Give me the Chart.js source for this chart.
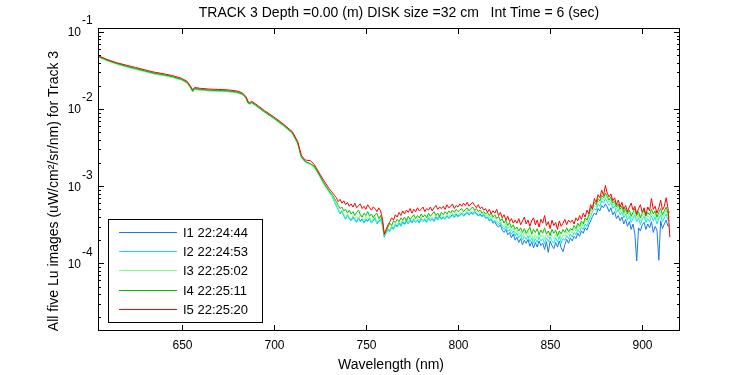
<!DOCTYPE html>
<html><head><meta charset="utf-8">
<script src="https://cdn.jsdelivr.net/npm/chart.js@4"></script>
<style>html,body{margin:0;padding:0;background:#fff;}canvas{display:block;}</style>
</head><body>
<canvas id="c" width="750" height="375"></canvas>
<script>
// ---- data (wavelength in nm, radiance as log10 values) ----
const wavelengths = [605,610,615,620,625,630,635,640,645,650,653,655,656,657,660,665,670,675,680,683,685,686,687,688,690,695,700,705,710,713,715,717,720,722,724,727,730,
732,733,734,735,736,737,738,739,740,741,
742,743,744,745,746,747,748,749,750,751,
752,753,754,755,756,757,758,759,760,761,
762,763,764,765,766,767,768,769,770,771,
772,773,774,775,776,777,778,779,780,781,
782,783,784,785,786,787,788,789,790,791,
792,793,794,795,796,797,798,799,800,801,
802,803,804,805,806,807,808,809,810,811,
812,813,814,815,816,817,818,819,820,821,
822,823,824,825,826,827,828,829,830,831,
832,833,834,835,836,837,838,839,840,841,
842,843,844,845,846,847,848,849,850,851,
852,853,854,855,856,857,858,859,860,861,
862,863,864,865,866,867,868,869,870,871,
872,873,874,875,876,877,878,879,880,881,
882,883,884,885,886,887,888,889,890,891,
892,893,894,895,896,897,898,899,900,901,
902,903,904,905,906,907,908,909,910,911,
912,913,914,915];

const seriesLabels = ["I1 22:24:44","I2 22:24:53","I3 22:25:02","I4 22:25:11","I5 22:25:20"];
const seriesColors = ["#1a78ec","#10e4f2","#80ff80","#00c400","#ff0000"];

const lu1 = [-1.32,-1.37,-1.41,-1.445,-1.475,-1.505,-1.535,-1.555,-1.58,-1.615,-1.655,-1.725,-1.765,-1.735,-1.745,-1.755,-1.76,-1.765,-1.78,-1.805,-1.855,-1.915,-1.93,-1.915,-1.945,-2.035,-2.115,-2.205,-2.305,-2.44,-2.62,-2.68,-2.71,-2.745,-2.825,-2.955,-3.065,
-3.14,-3.20,-3.25,-3.30,-3.35,-3.32,-3.38,-3.42,-3.37,-3.41,
-3.44,-3.40,-3.43,-3.46,-3.41,-3.45,-3.42,-3.47,-3.43,-3.45,
-3.42,-3.47,-3.44,-3.41,-3.48,-3.45,-3.43,-3.50,-3.66,-3.60,
-3.56,-3.58,-3.53,-3.55,-3.50,-3.52,-3.48,-3.51,-3.46,-3.49,
-3.45,-3.48,-3.44,-3.47,-3.43,-3.46,-3.44,-3.47,-3.42,-3.45,
-3.43,-3.46,-3.41,-3.44,-3.42,-3.45,-3.40,-3.43,-3.39,-3.42,
-3.40,-3.42,-3.38,-3.41,-3.39,-3.37,-3.40,-3.36,-3.39,-3.37,
-3.35,-3.38,-3.36,-3.34,-3.37,-3.34,-3.36,-3.33,-3.35,-3.38,
-3.36,-3.39,-3.37,-3.41,-3.40,-3.45,-3.43,-3.48,-3.46,-3.51,
-3.53,-3.50,-3.57,-3.60,-3.56,-3.63,-3.60,-3.67,-3.62,-3.70,
-3.66,-3.73,-3.68,-3.76,-3.70,-3.74,-3.69,-3.78,-3.72,-3.80,
-3.73,-3.79,-3.71,-3.77,-3.74,-3.82,-3.72,-3.86,-3.71,-3.77,
-3.81,-3.73,-3.79,-3.71,-3.80,-3.85,-3.76,-3.69,-3.74,-3.67,
-3.71,-3.65,-3.68,-3.61,-3.65,-3.58,-3.61,-3.54,-3.57,-3.50,
-3.45,-3.39,-3.35,-3.37,-3.29,-3.32,-3.25,-3.28,-3.23,-3.27,
-3.33,-3.28,-3.37,-3.33,-3.42,-3.38,-3.45,-3.40,-3.49,-3.43,
-3.52,-3.46,-3.56,-3.49,-3.62,-3.97,-3.54,-3.58,-3.50,-3.47,
-3.56,-3.49,-3.54,-3.46,-3.60,-3.52,-3.57,-3.96,-3.45,-3.55,
-3.49,-3.44,-3.52,-3.50];

const lu2 = [-1.325,-1.375,-1.415,-1.45,-1.48,-1.51,-1.54,-1.56,-1.585,-1.62,-1.66,-1.73,-1.77,-1.74,-1.75,-1.76,-1.765,-1.77,-1.785,-1.81,-1.86,-1.92,-1.935,-1.92,-1.95,-2.04,-2.12,-2.21,-2.31,-2.445,-2.625,-2.685,-2.715,-2.75,-2.83,-2.96,-3.07,
-3.15,-3.21,-3.26,-3.31,-3.36,-3.33,-3.39,-3.43,-3.38,-3.42,
-3.45,-3.41,-3.44,-3.47,-3.42,-3.46,-3.43,-3.48,-3.44,-3.46,
-3.43,-3.48,-3.45,-3.42,-3.49,-3.46,-3.44,-3.51,-3.65,-3.61,
-3.57,-3.59,-3.54,-3.56,-3.51,-3.53,-3.49,-3.52,-3.47,-3.50,
-3.46,-3.49,-3.45,-3.48,-3.44,-3.47,-3.45,-3.48,-3.43,-3.46,
-3.44,-3.47,-3.42,-3.45,-3.43,-3.46,-3.41,-3.44,-3.40,-3.43,
-3.41,-3.43,-3.39,-3.42,-3.40,-3.38,-3.41,-3.37,-3.40,-3.38,
-3.36,-3.39,-3.37,-3.35,-3.38,-3.35,-3.37,-3.34,-3.36,-3.39,
-3.37,-3.40,-3.38,-3.42,-3.40,-3.44,-3.42,-3.46,-3.44,-3.48,
-3.50,-3.47,-3.53,-3.56,-3.52,-3.59,-3.56,-3.62,-3.58,-3.65,
-3.61,-3.67,-3.63,-3.70,-3.65,-3.69,-3.64,-3.72,-3.67,-3.74,
-3.68,-3.73,-3.66,-3.71,-3.68,-3.75,-3.67,-3.72,-3.66,-3.71,
-3.74,-3.67,-3.72,-3.65,-3.74,-3.68,-3.70,-3.64,-3.68,-3.62,
-3.66,-3.60,-3.63,-3.56,-3.60,-3.53,-3.56,-3.49,-3.52,-3.45,
-3.39,-3.33,-3.29,-3.31,-3.23,-3.26,-3.19,-3.22,-3.16,-3.20,
-3.25,-3.21,-3.29,-3.26,-3.34,-3.30,-3.37,-3.33,-3.41,-3.36,
-3.44,-3.39,-3.47,-3.42,-3.37,-3.46,-3.41,-3.50,-3.43,-3.39,
-3.47,-3.42,-3.46,-3.39,-3.45,-3.40,-3.49,-3.42,-3.37,-3.46,
-3.41,-3.36,-3.44,-3.45];

const lu3 = [-1.33,-1.38,-1.42,-1.455,-1.485,-1.515,-1.545,-1.565,-1.59,-1.625,-1.665,-1.735,-1.775,-1.745,-1.755,-1.765,-1.77,-1.775,-1.79,-1.815,-1.865,-1.925,-1.94,-1.925,-1.955,-2.045,-2.125,-2.215,-2.315,-2.45,-2.63,-2.69,-2.72,-2.76,-2.84,-2.97,-3.08,
-3.14,-3.19,-3.24,-3.29,-3.34,-3.31,-3.37,-3.41,-3.36,-3.40,
-3.43,-3.38,-3.42,-3.39,-3.44,-3.37,-3.41,-3.45,-3.39,-3.43,
-3.40,-3.46,-3.42,-3.39,-3.47,-3.43,-3.41,-3.49,-3.64,-3.60,
-3.55,-3.57,-3.51,-3.53,-3.48,-3.50,-3.46,-3.49,-3.44,-3.47,
-3.42,-3.47,-3.43,-3.45,-3.41,-3.46,-3.42,-3.44,-3.40,-3.45,
-3.41,-3.44,-3.39,-3.43,-3.40,-3.42,-3.38,-3.41,-3.37,-3.40,
-3.38,-3.41,-3.36,-3.39,-3.37,-3.35,-3.38,-3.34,-3.37,-3.35,
-3.33,-3.36,-3.34,-3.31,-3.35,-3.32,-3.34,-3.30,-3.33,-3.36,
-3.34,-3.37,-3.35,-3.39,-3.37,-3.41,-3.38,-3.43,-3.40,-3.45,
-3.47,-3.44,-3.50,-3.53,-3.48,-3.55,-3.52,-3.58,-3.54,-3.61,
-3.57,-3.63,-3.59,-3.66,-3.60,-3.64,-3.58,-3.67,-3.62,-3.70,
-3.63,-3.68,-3.61,-3.66,-3.63,-3.69,-3.62,-3.67,-3.60,-3.65,
-3.68,-3.62,-3.66,-3.60,-3.69,-3.63,-3.65,-3.59,-3.63,-3.57,
-3.61,-3.55,-3.58,-3.51,-3.55,-3.48,-3.52,-3.44,-3.47,-3.40,
-3.34,-3.29,-3.25,-3.27,-3.19,-3.22,-3.15,-3.18,-3.12,-3.16,
-3.21,-3.17,-3.25,-3.22,-3.30,-3.26,-3.33,-3.29,-3.37,-3.32,
-3.40,-3.35,-3.43,-3.38,-3.33,-3.42,-3.37,-3.45,-3.39,-3.35,
-3.43,-3.38,-3.41,-3.35,-3.40,-3.36,-3.44,-3.38,-3.33,-3.41,
-3.36,-3.31,-3.39,-3.40];

const lu4 = [-1.32,-1.37,-1.41,-1.445,-1.475,-1.505,-1.535,-1.555,-1.58,-1.615,-1.655,-1.725,-1.77,-1.735,-1.745,-1.755,-1.76,-1.765,-1.78,-1.805,-1.855,-1.92,-1.93,-1.915,-1.945,-2.035,-2.115,-2.205,-2.305,-2.44,-2.62,-2.68,-2.71,-2.74,-2.82,-2.95,-3.06,
-3.12,-3.16,-3.20,-3.25,-3.29,-3.27,-3.32,-3.30,-3.35,-3.31,
-3.36,-3.33,-3.38,-3.34,-3.31,-3.37,-3.40,-3.35,-3.38,-3.33,
-3.39,-3.36,-3.41,-3.37,-3.35,-3.42,-3.38,-3.46,-3.63,-3.58,
-3.53,-3.48,-3.51,-3.45,-3.47,-3.43,-3.46,-3.41,-3.44,-3.40,
-3.45,-3.39,-3.43,-3.40,-3.37,-3.42,-3.38,-3.41,-3.36,-3.40,
-3.37,-3.41,-3.35,-3.39,-3.36,-3.33,-3.38,-3.35,-3.39,-3.34,
-3.37,-3.33,-3.36,-3.32,-3.35,-3.31,-3.34,-3.30,-3.33,-3.31,
-3.29,-3.33,-3.30,-3.28,-3.32,-3.29,-3.27,-3.31,-3.29,-3.33,
-3.31,-3.35,-3.33,-3.36,-3.34,-3.38,-3.35,-3.40,-3.37,-3.42,
-3.39,-3.45,-3.42,-3.48,-3.44,-3.51,-3.47,-3.54,-3.50,-3.56,
-3.53,-3.58,-3.54,-3.60,-3.55,-3.61,-3.57,-3.53,-3.62,-3.56,
-3.60,-3.55,-3.63,-3.57,-3.61,-3.54,-3.62,-3.58,-3.64,-3.56,
-3.61,-3.57,-3.64,-3.58,-3.62,-3.56,-3.60,-3.54,-3.59,-3.55,
-3.57,-3.51,-3.55,-3.48,-3.52,-3.45,-3.49,-3.41,-3.44,-3.37,
-3.30,-3.26,-3.21,-3.24,-3.16,-3.19,-3.12,-3.15,-3.09,-3.13,
-3.18,-3.14,-3.22,-3.19,-3.27,-3.23,-3.30,-3.26,-3.34,-3.29,
-3.36,-3.31,-3.39,-3.34,-3.29,-3.38,-3.33,-3.41,-3.35,-3.31,
-3.39,-3.34,-3.37,-3.30,-3.36,-3.32,-3.40,-3.34,-3.29,-3.37,
-3.32,-3.27,-3.35,-3.33];

const lu5 = [-1.31,-1.36,-1.40,-1.43,-1.46,-1.49,-1.52,-1.54,-1.565,-1.60,-1.64,-1.71,-1.75,-1.72,-1.73,-1.74,-1.745,-1.75,-1.765,-1.79,-1.84,-1.90,-1.915,-1.90,-1.93,-2.02,-2.10,-2.19,-2.29,-2.42,-2.60,-2.66,-2.67,-2.72,-2.80,-2.92,-3.03,
-3.09,-3.12,-3.15,-3.20,-3.17,-3.22,-3.19,-3.24,-3.21,-3.26,
-3.23,-3.27,-3.22,-3.28,-3.25,-3.23,-3.29,-3.26,-3.30,-3.24,
-3.28,-3.31,-3.27,-3.29,-3.33,-3.28,-3.32,-3.42,-3.62,-3.56,
-3.50,-3.46,-3.41,-3.44,-3.37,-3.40,-3.34,-3.38,-3.32,-3.36,
-3.31,-3.34,-3.29,-3.35,-3.30,-3.33,-3.28,-3.32,-3.30,-3.27,
-3.33,-3.29,-3.31,-3.27,-3.32,-3.28,-3.25,-3.30,-3.27,-3.29,
-3.26,-3.30,-3.24,-3.28,-3.26,-3.23,-3.29,-3.25,-3.27,-3.23,
-3.26,-3.22,-3.25,-3.21,-3.26,-3.23,-3.21,-3.25,-3.28,-3.24,
-3.29,-3.27,-3.31,-3.29,-3.34,-3.30,-3.36,-3.32,-3.35,-3.30,
-3.38,-3.34,-3.41,-3.37,-3.44,-3.39,-3.46,-3.42,-3.48,-3.44,
-3.48,-3.42,-3.50,-3.45,-3.40,-3.49,-3.44,-3.52,-3.45,-3.41,
-3.50,-3.44,-3.53,-3.43,-3.48,-3.38,-3.51,-3.46,-3.55,-3.44,
-3.51,-3.47,-3.56,-3.45,-3.52,-3.48,-3.43,-3.50,-3.44,-3.47,
-3.44,-3.49,-3.41,-3.45,-3.38,-3.43,-3.35,-3.40,-3.31,-3.36,
-3.24,-3.30,-3.16,-3.21,-3.11,-3.15,-3.05,-3.12,-2.99,-3.09,
-3.14,-3.10,-3.19,-3.15,-3.24,-3.18,-3.27,-3.21,-3.30,-3.25,
-3.33,-3.27,-3.22,-3.31,-3.26,-3.36,-3.29,-3.24,-3.34,-3.28,
-3.37,-3.27,-3.32,-3.16,-3.30,-3.26,-3.35,-3.28,-3.18,-3.31,
-3.26,-3.15,-3.29,-3.66];

const xTicks = [650,700,750,800,850,900];
const yDecades = [-4,-3,-2,-1];
const titleText = "TRACK 3 Depth =0.00 (m) DISK size =32 cm   Int Time = 6 (sec)";
const xTitle = "Wavelength (nm)";
const yTitle = "All five Lu images (uW/cm\u00B2/sr/nm) for Track 3";

// ---- build chart ----
const allSeries = [lu1, lu2, lu3, lu4, lu5];
const FAM = "'Liberation Sans', Arial, sans-serif";
const TICKFONT = "12px " + FAM;
const TITLEFONT = "14px " + FAM;
const LEGFONT = "13px " + FAM;

const datasets = allSeries.map((s, k) => ({
  label: seriesLabels[k],
  data: wavelengths.map((w, i) => ({x: w, y: Math.pow(10, s[i])})),
  borderColor: seriesColors[k],
  backgroundColor: seriesColors[k],
  borderWidth: 1,
  pointRadius: 0,
  tension: 0,
  fill: false,
  order: 4 - k
}));

function tick(ctx, a, py, len) {
  ctx.beginPath();
  ctx.moveTo(a.left, py); ctx.lineTo(a.left + len, py);
  ctx.moveTo(a.right, py); ctx.lineTo(a.right - len, py);
  ctx.stroke();
}

const framePlugin = {
  id: 'frame',
  afterDraw(chart) {
    const ctx = chart.ctx, a = chart.chartArea;
    const xs = chart.scales.x, ys = chart.scales.y;
    ctx.save();
    ctx.strokeStyle = '#000';
    ctx.fillStyle = '#000';
    ctx.lineWidth = 1;
    ctx.strokeRect(a.left + 0.5, a.top + 0.5, a.right - a.left - 1, a.bottom - a.top - 1);
    ctx.font = TICKFONT;
    // x ticks
    ctx.textAlign = 'center';
    ctx.textBaseline = 'middle';
    xTicks.forEach(v => {
      const px = Math.round(xs.getPixelForValue(v)) + 0.5;
      ctx.beginPath();
      ctx.moveTo(px, a.bottom); ctx.lineTo(px, a.bottom - 6);
      ctx.moveTo(px, a.top); ctx.lineTo(px, a.top + 6);
      ctx.stroke();
      ctx.fillText(String(v), px, a.bottom + 15);
    });
    // y ticks (major + minor)
    const lo = ys.min, hi = ys.max;
    const decs = [yDecades[0] - 1].concat(yDecades);
    decs.forEach(d => {
      for (let m = 1; m <= 9; m++) {
        const val = m * Math.pow(10, d);
        if (val < lo || val > hi) continue;
        tick(ctx, a, Math.round(ys.getPixelForValue(val)) + 0.5, m === 1 ? 6 : 3);
      }
    });
    yDecades.forEach(d => {
      const py = ys.getPixelForValue(Math.pow(10, d));
      ctx.textAlign = 'right';
      ctx.fillText('10', 81, py + 1);
      ctx.textAlign = 'left';
      ctx.fillText(String(d), 82, py - 11);
    });
    // titles
    ctx.font = TITLEFONT;
    ctx.textAlign = 'center';
    ctx.fillText(titleText, 399, 13);
    ctx.fillText(xTitle, 391, 365);
    ctx.save();
    ctx.translate(58, 191);
    ctx.rotate(-Math.PI / 2);
    ctx.textBaseline = 'alphabetic';
    ctx.fillText(yTitle, 0, 0);
    ctx.restore();
    // legend
    const lx = 108, ly = 219, lw = 154, lh = 103;
    ctx.fillStyle = '#fff';
    ctx.fillRect(lx, ly, lw, lh);
    ctx.strokeStyle = '#000';
    ctx.strokeRect(lx + 0.5, ly + 0.5, lw, lh);
    ctx.font = LEGFONT;
    ctx.textAlign = 'left';
    ctx.textBaseline = 'middle';
    seriesLabels.forEach((lab, k) => {
      const ry = Math.round(231.5 + k * 19.35) + 0.5;
      ctx.strokeStyle = seriesColors[k];
      ctx.beginPath();
      ctx.moveTo(119, ry); ctx.lineTo(177, ry);
      ctx.stroke();
      ctx.fillStyle = '#000';
      ctx.fillText(lab, 183, ry + 1);
    });
    ctx.restore();
  }
};

new Chart(document.getElementById('c'), {
  type: 'line',
  data: { datasets },
  options: {
    responsive: false,
    animation: false,
    devicePixelRatio: 1,
    layout: { padding: { left: 98, right: 70, top: 28, bottom: 44 } },
    plugins: { legend: { display: false }, tooltip: { enabled: false }, title: { display: false } },
    scales: {
      x: { type: 'linear', min: 604.6, max: 920.5, display: false },
      y: { type: 'logarithmic', min: Math.pow(10, -4.878), max: Math.pow(10, -0.948), display: false }
    }
  },
  plugins: [framePlugin]
});
</script>
</body></html>
